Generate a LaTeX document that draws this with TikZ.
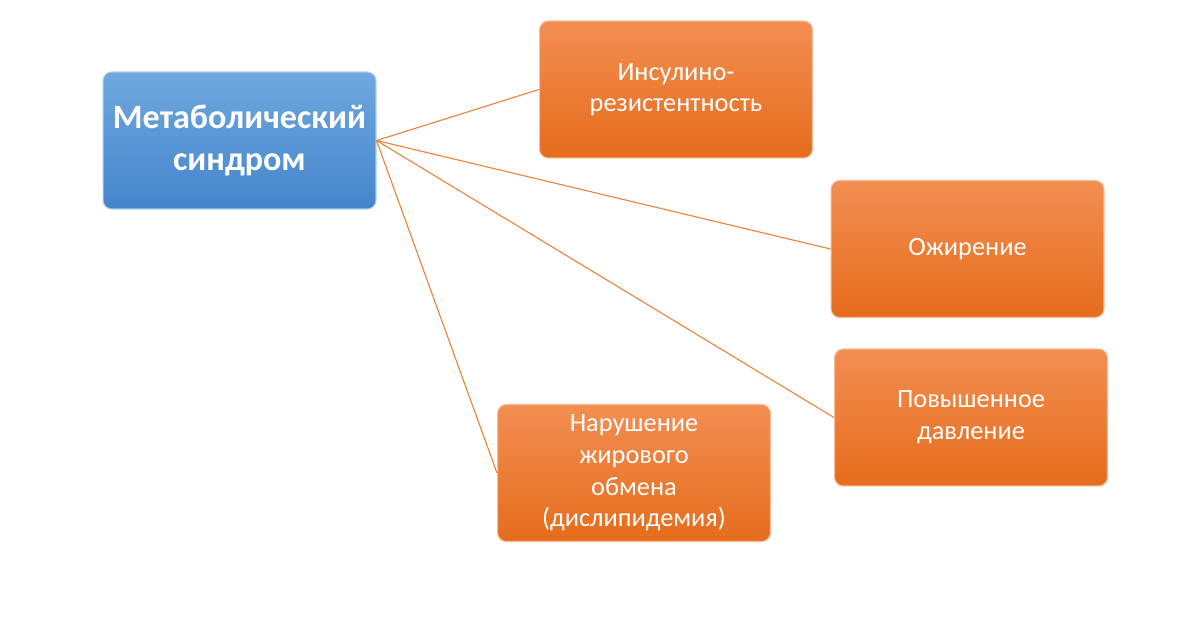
\documentclass[tikz,border=0pt]{standalone}
\usepackage{fontspec}
\setmainfont{Carlito}
\usetikzlibrary{positioning}
\definecolor{MetaBlueTop}{RGB}{112,168,222}
\definecolor{MetaBlueBot}{RGB}{68,133,204}
\definecolor{FactorTop}{RGB}{243,142,82}
\definecolor{FactorBot}{RGB}{229,108,28}
\definecolor{LinkOrange}{RGB}{237,125,49}

\tikzset{
  metabox/.style={rounded corners=5pt,top color=MetaBlueTop,bottom color=MetaBlueBot,
    draw=MetaBlueTop!60,line width=0.6pt,minimum width=5.46cm,minimum height=2.74cm,
    inner xsep=2pt,text width=5.2cm,align=center,text=white,
    font=\fontsize{19.4}{23.4}\selectfont\bfseries},
  factorbox/.style={rounded corners=5pt,top color=FactorTop,bottom color=FactorBot,
    draw=FactorTop!60,line width=0.6pt,minimum width=5.46cm,minimum height=2.74cm,
    text width=3.7cm,align=center,text=white,font=\fontsize{15}{18}\selectfont},
  link/.style={LinkOrange,line width=0.6pt}
}

\begin{document}
\begin{tikzpicture}[x=0.02cm,y=-0.02cm]
  \useasboundingbox (0,0) rectangle (1200,630);
  \node[metabox] (meta) at (239.5,140.5) {Метаболический\\синдром};
  \node[factorbox] (insulin) at (676,89.5) {Инсулино-\\резистентность};
  \node[factorbox] (obesity) at (967.5,249) {Ожирение};
  \node[factorbox] (pressure) at (971,417.5) {Повышенное\\давление};
  \node[factorbox] (lipid) at (634,473) {Нарушение\\жирового\\обмена\\(дислипидемия)};
  % связи
  \draw[link] (meta.east) -- (insulin.west);
  \draw[link] (meta.east) -- (obesity.west);
  \draw[link] (meta.east) -- (pressure.west);
  \draw[link] (meta.east) -- (lipid.west);
\end{tikzpicture}
\end{document}
